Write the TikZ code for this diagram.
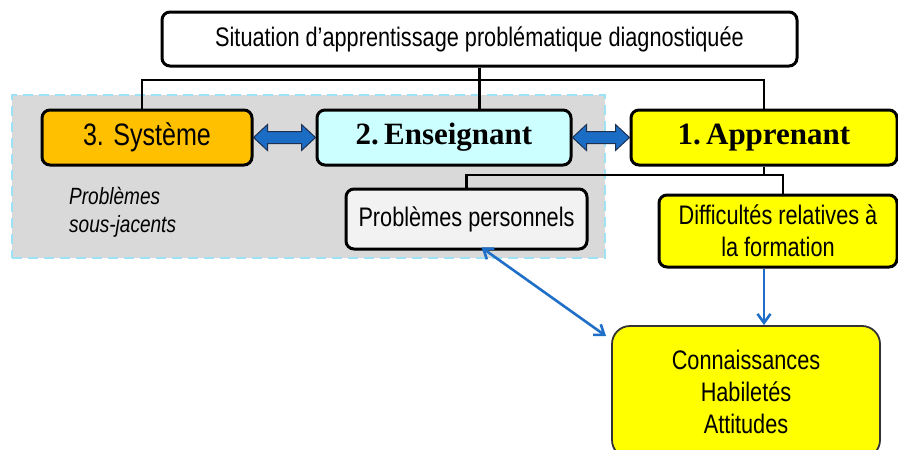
\documentclass[tikz,border=0pt]{standalone}
\usepackage{fontspec}
\setmainfont{Liberation Sans}[FakeStretch=0.81]
\newfontfamily\bserif{Liberation Serif}
\usetikzlibrary{arrows.meta,calc}
\definecolor{sysorange}{HTML}{FFC000}
\definecolor{enscyan}{HTML}{CCFFFF}
\definecolor{appyellow}{HTML}{FFFF00}
\definecolor{ppgray}{HTML}{F2F2F2}
\definecolor{regiongray}{HTML}{D9D9D9}
\definecolor{regiondash}{HTML}{9DE3F5}
\definecolor{arrowblue}{HTML}{1F6FC8}
\definecolor{blockblue}{HTML}{1A6CC4}
\definecolor{blockedge}{HTML}{1F3050}
\newcommand\blockarr[2]{%
  \draw[blockarrow] let \p1=(#1.east), \p2=(#2.west) in
    (\x1,\y1) -- (\x1+14pt,\y1+13pt) -- (\x1+14pt,\y1+6pt) -- (\x2-14pt,\y1+6pt)
    -- (\x2-14pt,\y1+13pt) -- (\x2,\y1) -- (\x2-14pt,\y1-13pt) -- (\x2-14pt,\y1-6pt)
    -- (\x1+14pt,\y1-6pt) -- (\x1+14pt,\y1-13pt) -- cycle;}
\begin{document}
\begin{tikzpicture}[x=1pt,y=-1pt,
  box/.style={draw=black, line width=3pt, rounded corners=8pt, inner sep=0pt,
    align=center, font=\fontsize{26.8}{32}\selectfont},
  bigbox/.style={box, font=\bserif\bfseries\fontsize{31}{36}\selectfont},
  wire/.style={draw=black, line width=2.4pt},
  blu/.style={draw=arrowblue, line width=2.6pt},
  blockarrow/.style={fill=blockblue, draw=blockedge, line width=1pt, line join=miter},
  region/.style={fill=regiongray, draw=regiondash, line width=2.5pt, dash pattern=on 10pt off 6pt, inner sep=0pt}
]
\useasboundingbox (0,0) rectangle (898,450);
\clip (0,0) rectangle (898,450);
\fill[white] (0,0) rectangle (898,450);

% grey region
\node[region, minimum width=593pt, minimum height=163pt] (grp) at (308.5,176.5) {};

% boxes
\node[box, fill=white, minimum width=635pt, minimum height=54pt] (top) at (479.5,39)
  {Situation d’apprentissage problématique diagnostiquée};
\node[box, fill=sysorange, minimum width=210pt, minimum height=55pt,
  font=\fontsize{31}{36}\selectfont] (sys) at (147,137.5) {3. Système};
\node[bigbox, fill=enscyan, minimum width=254pt, minimum height=55pt] (ens) at (444,137.5) {2.\,Enseignant};
\node[bigbox, fill=appyellow, minimum width=266pt, minimum height=55pt] (app) at (764,137.5) {1.\,Apprenant};
\node[box, fill=ppgray, minimum width=241pt, minimum height=60pt] (pp) at (466.5,219) {Problèmes personnels};
\node[box, fill=appyellow, minimum width=238pt, minimum height=72pt] (diff) at (778,231)
  {Difficultés relatives à\\la formation};
\node[box, fill=appyellow, draw=black!80, line width=1.8pt, rounded corners=18pt,
  minimum width=268pt, minimum height=132pt] (conn) at (746,392)
  {Connaissances\\Habiletés\\Attitudes};
\node[anchor=west, inner sep=0pt, align=left,
  font=\itshape\fontsize{23.5}{28}\selectfont] (psj) at (69,212) {Problèmes\\sous-jacents};

% tree connectors
\coordinate (bus) at (0,80);
\coordinate (bus2) at (0,175);
\draw[wire] (top.south) -- (top.south |- ens.north);
\draw[wire] ([xshift=-5pt]sys.north) |- (app.north |- bus) -- (app.north);
\draw[wire] (app.south) -- (app.south |- bus2);
\draw[wire] (pp.north) |- ([xshift=5pt]diff.north |- bus2) -- ([xshift=5pt]diff.north);

% block double arrows
\blockarr{sys}{ens}
\blockarr{ens}{app}

% blue arrows
\draw[blu, -{Straight Barb[length=9pt,width=13pt]}] (app.south |- diff.south) -- (app.south |- conn.north);
\draw[blu, {Straight Barb[length=9pt,width=13pt]}-{Straight Barb[length=9pt,width=13pt]}]
  ([xshift=15pt,yshift=3pt]pp.south) -- ([xshift=-5pt,yshift=-11pt]conn.north west);
\end{tikzpicture}
\end{document}
